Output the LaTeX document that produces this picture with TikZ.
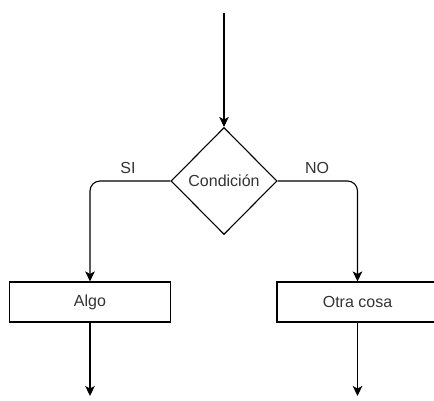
\documentclass[tikz,border=0pt]{standalone}
\usepackage{fontspec}
\setmainfont{Liberation Sans}
\usepackage{tikz}
\usetikzlibrary{shapes.geometric}
\usetikzlibrary{arrows.meta}
\tikzset{caja/.style={draw, line width=1.1pt, minimum width=161pt, minimum height=40pt, inner sep=0pt, text=black!80},
         decision/.style={draw, diamond, line width=1.1pt, minimum width=106pt, minimum height=107pt, inner sep=0pt, text=black!80},
         flecha/.style={line width=1.1pt, -{Stealth[length=10pt,width=9.5pt,inset=2.5pt]}},
         etiqueta/.style={text=black!80}}

\begin{document}
\begin{tikzpicture}[x=1pt,y=-1pt,font=\fontsize{16}{19}\selectfont]
\useasboundingbox (0,0) rectangle (434,401);
\node[decision] (cond) at (224,181) {Condición};
\node[caja] (algo) at (90,302) {Algo};
\node[caja] (otra) at (357.5,302) {Otra cosa};
\coordinate (inicio) at (224,13);
\coordinate (finA) at (90,396);
\coordinate (finB) at (357.5,396);
\draw[flecha] (inicio) -- (cond.north);
\draw[flecha,rounded corners=10pt] (cond.west) -| (algo.north);
\draw[flecha,rounded corners=10pt] (cond.east) -| (otra.north);
\draw[flecha] (algo.south) -- (finA);
\draw[flecha] (otra.south) -- (finB);
\node[etiqueta] (si) at (128,168) {SI};
\node[etiqueta] (no) at (317,168) {NO};
\end{tikzpicture}
\end{document}
